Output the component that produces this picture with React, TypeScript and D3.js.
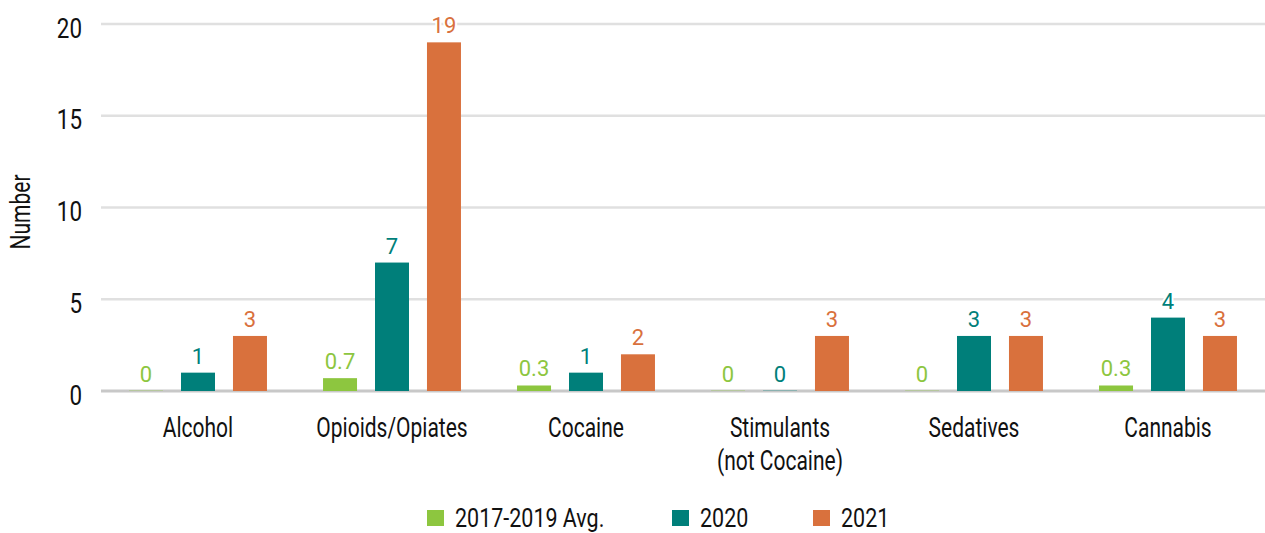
import React from "react";
import * as d3 from "d3";

const categories = ["Alcohol", "Opioids/Opiates", "Cocaine", "Stimulants\n(not Cocaine)", "Sedatives", "Cannabis"];
const seriesNames = ["2017-2019 Avg.", "2020", "2021"];
const avgValues = [0, 0.7, 0.3, 0, 0, 0.3];
const values2020 = [1, 7, 1, 0, 3, 4];
const values2021 = [3, 19, 2, 3, 3, 3];
const seriesColors = ["#8DC63F", "#007F7A", "#D9713D"];
const yTicks = [0, 5, 10, 15, 20];

const W = 1265;
const H = 533;
const FONT = "Roboto, 'Liberation Sans', Arial, sans-serif";

function CText(props: { x: number; y: number; sx: number; size: number; anchor?: string; rotate?: number; children: React.ReactNode; fill?: string }) {
  const { x, y, sx, size, anchor = "start", rotate = 0, children, fill = "#111" } = props;
  return (
    <text
      transform={`translate(${x},${y}) rotate(${rotate}) scale(${sx},1)`}
      textAnchor={anchor}
      fontSize={size}
      fill={fill}
      style={{ fontFamily: FONT }}
    >
      {children}
    </text>
  );
}

export default function App() {
  const seriesValues = [avgValues, values2020, values2021];
  const left = 101, right = 1265, top = 24, bottom = 391;
  const y = d3.scaleLinear().domain([0, 20]).range([bottom, top]);
  const x0 = d3.scaleBand<string>().domain(categories).range([left, right]).paddingInner(0.289).paddingOuter(0.1445);
  const x1 = d3.scaleBand<string>().domain(seriesNames).range([0, x0.bandwidth()]).paddingInner(0.346).paddingOuter(0);

  const legendX = [427, 672, 813];

  return (
    <svg width={W} height={H} style={{ position: "absolute", left: 0, top: 0, background: "#fff", fontFamily: FONT }}>
      {yTicks.map((t) => (
        <g key={t}>
          <line x1={left} x2={right} y1={y(t)} y2={y(t)} stroke={t === 0 ? "#C8C8C8" : "#E0E0E0"} strokeWidth={t === 0 ? 3 : 2.5} />
          <CText x={82} y={y(t) + 13.5} sx={0.8} size={28} anchor="end">{t}</CText>
        </g>
      ))}
      <CText x={30} y={212} sx={0.75} size={28} anchor="middle" rotate={-90}>Number</CText>
      {categories.map((c, ci) => (
        <g key={c} transform={`translate(${x0(c)},0)`}>
          {seriesNames.map((s, si) => {
            const v = seriesValues[si][ci];
            const bx = x1(s)!;
            const bw = x1.bandwidth();
            return (
              <g key={s}>
                <rect x={bx} y={y(v)} width={bw} height={Math.max(0, bottom - y(v))} fill={seriesColors[si]} />
                {v === 0 && <rect x={bx} y={bottom - 1} width={bw} height={1} fill={seriesColors[si]} opacity={0.3} />}
                <text x={bx + bw / 2} y={y(v) - 9} textAnchor="middle" fontSize={22}
                  fill={seriesColors[si]} stroke="#fff" strokeWidth={4} paintOrder="stroke" strokeLinejoin="round"
                  style={{ fontFamily: FONT }}>{v}</text>
              </g>
            );
          })}
          {c.split("\n").map((line, li) => (
            <CText key={li} x={x0.bandwidth() / 2} y={437 + li * 33} sx={0.75} size={28} anchor="middle">{line}</CText>
          ))}
        </g>
      ))}
      {seriesNames.map((s, si) => (
        <g key={s} transform={`translate(${legendX[si]},0)`}>
          <rect x={0} y={510} width={17} height={16} fill={seriesColors[si]} />
          <CText x={28} y={527} sx={0.86} size={25}>{s}</CText>
        </g>
      ))}
    </svg>
  );
}
